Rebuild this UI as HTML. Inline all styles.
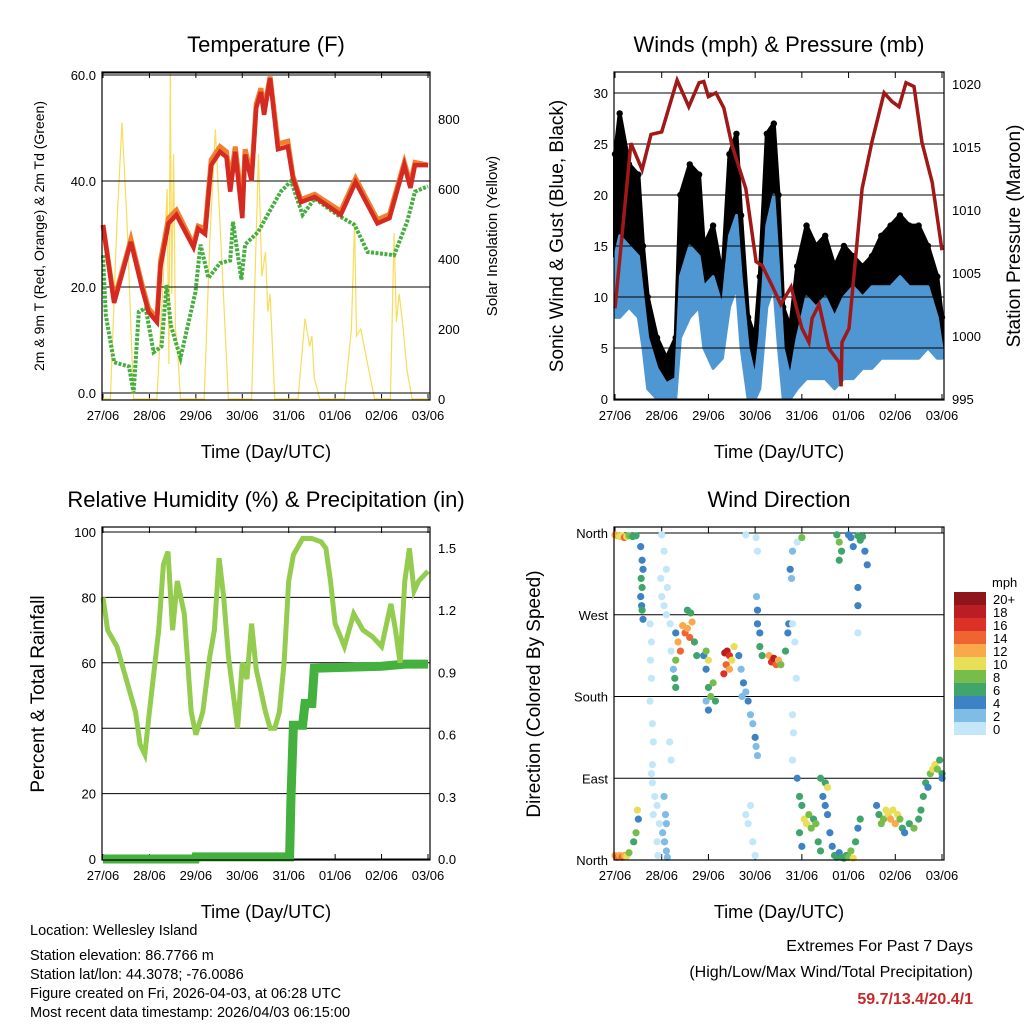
<!DOCTYPE html>
<html><head><meta charset="utf-8">
<style>
body{margin:0;background:#fff;font-family:"Liberation Sans",sans-serif;}
svg text{font-family:"Liberation Sans",sans-serif;fill:#000;}
</style></head>
<body>
<svg id="s" width="1024" height="1024" viewBox="0 0 1024 1024" xmlns="http://www.w3.org/2000/svg">
<rect width="1024" height="1024" fill="#fff"/>
<g id="g1"></g>
<g id="g2"></g>
<g id="g3"></g>
<g id="g4"></g>
<g font-size="14.5">
<text x="30" y="935">Location: Wellesley Island</text>
<text x="30" y="960">Station elevation: 86.7766 m</text>
<text x="30" y="979">Station lat/lon: 44.3078; -76.0086</text>
<text x="30" y="998">Figure created on Fri, 2026-04-03, at 06:28 UTC</text>
<text x="30" y="1017">Most recent data timestamp: 2026/04/03 06:15:00</text>
</g>
<g font-size="16" text-anchor="end">
<text x="973" y="951">Extremes For Past 7 Days</text>
<text x="973" y="977">(High/Low/Max Wind/Total Precipitation)</text>
<text x="973" y="1004" style="fill:#c8282a;font-weight:bold">59.7/13.4/20.4/1</text>
</g>
</svg>
<script>
// ---------- data ----------
const dayLabels=["27/06","28/06","29/06","30/06","31/06","01/06","02/06","03/06"];
const tempTimes=[0,0.24,0.6,0.84,0.98,1.16,1.24,1.41,1.58,1.95,2.05,2.2,2.33,2.52,2.66,2.74,2.85,3.0,3.06,3.2,3.3,3.4,3.47,3.6,3.77,3.98,4.09,4.26,4.56,5.12,5.44,5.91,6.17,6.49,6.62,6.72,7.0];
const tempRed=[31.7,17,28.5,19.8,15.3,13.4,24,32,33.6,27.5,31,30,43,45.5,44.5,38,45.5,33,45,40,53.8,56.8,52.5,59.4,46,46.5,40.6,36,37,33.6,39.8,32,33,43,38.7,43,43];
const tempOrange=[31.7,17.5,29,20.5,16,14,25,33,34.5,28,31.5,31,44,46.5,45.5,40,46.5,35,46,41,54.5,57.5,53.5,59.7,47,47.5,41,36.5,37.5,34.3,40.5,32.7,33.7,43.5,39.5,43.5,43];
const tdTimes=[0,0.06,0.24,0.56,0.66,0.77,0.92,1.09,1.26,1.37,1.46,1.67,1.99,2.1,2.27,2.52,2.74,2.8,2.98,3.06,3.34,3.62,3.83,4.05,4.3,4.56,5.05,5.42,5.7,6.27,6.55,6.72,7.0];
const tdGreen=[26,14.7,5.8,5,0,15.3,16,7.7,8.8,20.4,12.8,6.6,19,28,21.7,24.5,25,32.3,21.4,28,30.4,34.8,38,40,33.6,36.7,33.6,31.7,26.6,26,32.3,38,39];
const solarTimes=[0,0.16,0.3,0.41,0.52,0.66,1.16,1.3,1.38,1.42,1.45,1.48,1.52,1.56,1.6,1.67,2.18,2.3,2.42,2.55,2.7,3.2,3.35,3.42,3.5,3.55,3.6,3.7,4.2,4.35,4.45,4.5,4.55,4.67,5.2,5.35,5.42,5.46,5.55,5.7,5.85,6.19,6.27,6.32,6.38,6.45,6.55,6.66,7];
const solarVals=[0,0,500,790,500,0,0,350,600,100,934,300,700,200,150,0,0,450,770,420,0,0,700,350,420,250,300,0,0,230,150,180,60,0,0,200,506,180,200,100,0,0,474,220,300,220,80,0,0];
const windTimes=[0,0.1,0.3,0.5,0.6,0.7,0.9,1.1,1.3,1.4,1.6,1.8,1.9,2.1,2.3,2.45,2.6,2.7,2.85,3.0,3.1,3.25,3.4,3.5,3.6,3.75,3.9,4.1,4.3,4.5,4.7,4.9,5.1,5.3,5.5,5.7,5.9,6.1,6.3,6.5,6.7,6.9,7];
const gustHigh=[24,28,23,22,15,10,6,4,6,20,23,22,15,17,12,24,26,18,8,6,12,26,27,20,9,7,13,17,15,16,13,15,14,13,14,16,17,18,17,17,15,12,8];
const sustHigh=[14,16,15,14,10,6,3,1.5,2,12,15,14,11,12,9,16,18,12,5,2,6,17,20,13,5,2,6,10,9,10,8,10,11,10,11,11,11,12,11,11,11,8,5];
const sustLow=[8,8,9,8,5,1,0,0,0,6,8,9,5,3,4,9,11,5,0,0,1,9,11,5,0,0,1,2,2,2,1,2,2,3,3,4,4,4,4,4,5,4,4];
const presTimes=[0,0.34,0.58,0.77,1.0,1.33,1.58,1.8,1.9,2.0,2.16,2.33,2.5,2.8,3.02,3.15,3.36,3.55,3.77,4.0,4.15,4.22,4.37,4.58,4.8,4.84,4.86,5.01,5.29,5.5,5.76,5.93,6.08,6.23,6.4,6.57,6.79,7.0];
const presVals=[1002.2,1015.3,1013.2,1016,1016.2,1020.3,1018.2,1020.1,1020.2,1019,1019.3,1018.1,1015.2,1011.7,1005.9,1005.6,1004,1002.5,1003.9,1000.6,999.5,1001.4,1002.5,999,997.9,996,999.5,1000.6,1011.7,1015.4,1019.3,1018.6,1018.2,1020.1,1019.8,1015.4,1012.2,1006.8];
const rhTimes=[0,0.1,0.3,0.5,0.7,0.8,0.9,1.0,1.2,1.3,1.4,1.5,1.6,1.75,1.9,2.0,2.15,2.3,2.4,2.5,2.6,2.7,2.9,3.0,3.1,3.2,3.3,3.5,3.6,3.7,3.8,3.9,4.0,4.1,4.3,4.5,4.7,4.8,4.9,5.0,5.2,5.4,5.6,5.8,6.0,6.2,6.3,6.4,6.5,6.6,6.7,6.8,7];
const rhVals=[80,70,65,55,45,35,32,45,70,90,94,70,85,75,45,38,45,62,70,92,80,62,40,60,55,72,58,45,40,40,45,60,85,93,98,98,97,95,85,72,65,75,70,68,65,78,70,60,85,95,82,85,88];
const rainTimes=[0,1.99,2.0,4.02,4.05,4.1,4.3,4.35,4.5,4.55,6.0,6.5,7];
const rainVals=[0,0,0.01,0.01,0.3,0.645,0.645,0.75,0.75,0.92,0.93,0.94,0.94];
const dirTimes=[0.0,0.05,0.1,0.15,0.2,0.25,0.3,0.38,0.45, 0.55,0.58,0.6,0.56,0.58,0.55,0.57,0.58,0.6, 1.0,1.05,1.1,0.98,1.12,1.0,1.05,1.1, 0.75,0.78,0.76,0.78,0.75,0.8,0.82,0.8,0.78, 0.8,0.85,0.9,0.82,0.95,0.9,0.92, 1.05,1.08,1.1,1.02,1.06,1.1,1.12, 0.0,0.05,0.1,0.15,0.2,0.25,0.3,0.4,0.45,0.5,0.48, 1.18,1.2,1.17,1.2, 1.5,1.55,1.6,1.45,1.65,1.4,1.35,1.3,1.28,1.3,1.7,1.75,1.55,1.62,1.3,1.25, 1.9,1.95,2.0,2.05,2.1,2.15,2.0,1.95,2.0,1.95, 2.35,2.4,2.45,2.38,2.33,2.5,2.55,2.45, 2.65,2.7,2.75,2.8,2.85,2.9,2.72, 2.95,3.0,3.02,3.05, 3.05,3.1,3.1,3.15, 3.3,3.35,3.4,3.45,3.5,3.55,3.65,3.7,3.72, 3.8,3.85,3.88,3.8,3.82,3.8, 3.75,3.8,3.9,4.0,3.78, 3.02,3.05,3.03,3.05,2.8, 4.75,4.8,4.85,5.0,5.05,5.1,5.2,5.25,5.3,5.35,5.4,4.8,5.2,5.2,5.2, 3.9,3.95,4.0,4.05,4.1,4.15,4.2,4.25,4.3,4.35,4.4,3.95,4.0,4.45,4.5,4.5,4.55,4.6,4.65,4.7,4.75,4.8,4.85,4.9,4.95,5.0,5.05,5.1,5.15,5.2,5.25,4.4,4.55, 5.6,5.65,5.7,5.75,5.8,5.85,5.9,5.95,6.0,6.05,6.1,6.15,6.2,6.3,6.4,6.5,6.55,6.6,6.65,6.7,6.75,6.8,6.85,6.9,6.95,7.0,7.0, 2.8,2.85,2.95,3.0,2.9];
const dirVals=[358,357,356,357,355,356,357,356,357, 345,330,320,310,300,290,280,275,265, 358,340,320,310,300,290,280,270, 260,240,220,200,175,150,130,105,95, 85,70,60,50,40,20,5, 70,50,40,30,20,10,3, 5,3,5,3,5,4,8,20,30,45,55, 260,230,130,110, 250,255,245,258,262,230,240,220,200,190,240,225,275,272,250,210, 225,210,190,180,195,175,165,175,220,230, 228,230,225,215,205,220,235,210, 225,210,195,185,175,160,180, 150,135,125,115, 260,250,235,225, 225,218,222,215,220,215,230,250,260, 260,240,200,160,140,110, 320,340,350,355,310, 355,340,290,275,358, 358,350,340,358,355,345,357,352,356,340,325,330,300,280,250, 90,70,60,45,40,50,35,45,40,20,10,30,15,70,60,85,50,30,15,5,3,8,3,2,5,3,10,2,20,35,45,90,80, 60,50,40,45,55,50,45,55,40,50,45,35,30,40,35,45,55,70,85,80,95,100,105,100,110,95,90, 50,40,20,5,60];
const dirSpeeds=[13,12,10,10,14,10,8,6,6, 4,4,4,6,6,4,4,6,4, 1,1,1,1,1,1,0,1, 1,1,1,1,1,1,1,1,1, 1,1,1,1,1,1,1, 3,3,3,3,3,3,2, 13,14,12,14,12,10,8,7,8,5,10, 1,1,1,1, 14,13,14,12,12,14,12,8,6,7,7,6,7,6,4,3, 4,5,6,8,8,7,4,3,10,9, 18,18,16,14,16,10,10,12, 4,3,4,3,4,2,2, 3,4,3,2, 4,4,6,7, 12,16,18,14,12,8,6,4,4, 1,1,1,1,1,1, 4,3,1,8,3, 1,1,3,4,1, 7,8,6,4,4,4,6,7,7,4,4,7,4,4,1, 5,7,6,10,10,8,8,6,8,6,6,6,4,4,4,6,4,4,4,6,6,4,6,6,6,8,8,10,6,4,6,6,10, 4,6,8,8,10,10,12,10,12,10,8,6,4,6,8,6,6,6,6,4,8,10,10,8,6,6,4, 1,1,1,1,1];
const speedBins=["20+","18","16","14","12","10","8","6","4","2","0"];
const binColors=["#8e1519","#bb1d24","#dc3127","#ef6430","#f9a84a","#e9de58","#77bd4b","#3fa56b","#3c82c4","#80bde6","#c3e6f8"];

// ---------- helpers ----------
const NS="http://www.w3.org/2000/svg";
function el(parent,tag,attrs,txt){const e=document.createElementNS(NS,tag);for(const k in attrs)e.setAttribute(k,attrs[k]);if(txt!==undefined)e.textContent=txt;parent.appendChild(e);return e;}
function lin(d0,d1,r0,r1){return v=>r0+(v-d0)*(r1-r0)/(d1-d0);}
function pathOf(ts,vs,xf,yf){return ts.map((t,i)=>(i?"L":"M")+xf(t).toFixed(1)+","+yf(vs[i]).toFixed(1)).join("");}
function areaOf(ts,hi,lo,xf,yf){
  let d=ts.map((t,i)=>(i?"L":"M")+xf(t).toFixed(1)+","+yf(hi[i]).toFixed(1)).join("");
  for(let i=ts.length-1;i>=0;i--)d+="L"+xf(ts[i]).toFixed(1)+","+yf(lo[i]).toFixed(1);
  return d+"Z";
}

function frame(g,x0,x1,y0,y1,title,xlab){
  const t=el(g,"text",{x:(x0+x1)/2,y:y0-20,"text-anchor":"middle","font-size":22},title);
  
  
  const xl=el(g,"text",{x:(x0+x1)/2,y:y1+58,"text-anchor":"middle","font-size":18},xlab);
  
  
  const xs=lin(0,7,x0+1,x1-2);
  dayLabels.forEach((d,i)=>{
    const x=xs(i);
    el(g,"line",{x1:x,x2:x,y1:y1,y2:y1-6,stroke:"#000"});
    el(g,"line",{x1:x,x2:x,y1:y0,y2:y0+6,stroke:"#000"});
    const tl=el(g,"text",{x:x,y:y1+20,"text-anchor":"middle","font-size":13},d);
    
    
  });
  return xs;
}
function border(g,x0,x1,y0,y1){
  const r=el(g,"rect",{x:x0,y:y0,width:x1-x0,height:y1-y0,fill:"none",stroke:"#000","stroke-width":1.2});
  
  
}
function ytick(g,x0,x1,y,label,side,grid){
  if(grid) el(g,"line",{x1:x0,x2:x1,y1:y,y2:y,stroke:"#000","stroke-width":1});
  const t=el(g,"text",{x:side==="l"?x0-6:x1+8,y:y+5,"text-anchor":side==="l"?"end":"start","font-size":13},label);
  
  
}
function vlabel(g,x,y,txt,size){
  const t=el(g,"text",{x:x,y:y,"text-anchor":"middle","font-size":size,transform:`rotate(-90 ${x} ${y})`},txt);
  
  
}

// ---------- panel 1 ----------
(function(){
const g=document.getElementById("g1");
const X0=102,X1=430,Y0=72,Y1=400;
const xs=frame(g,X0,X1,Y0,Y1,"Temperature (F)","Time (Day/UTC)");
const yt=lin(0,60,393,75), ys=lin(0,800,399,119);
const p0=el(g,"path",{d:pathOf(solarTimes,solarVals,xs,ys),fill:"none",stroke:"#f8dc5a","stroke-width":1.2});

[0,20,40,60].forEach(v=>ytick(g,X0,X1,yt(v),v.toFixed(1),"l",true));
el(g,"line",{x1:X0,x2:X1,y1:73,y2:73,stroke:"#000"});
[0,200,400,600,800].forEach(v=>ytick(g,X0,X1,ys(v),String(v),"r",false));
vlabel(g,44,236,"2m & 9m T (Red, Orange) & 2m Td (Green)",14);
vlabel(g,497,236,"Solar Insolation (Yellow)",15);
const p1=el(g,"path",{d:pathOf(tdTimes,tdGreen,xs,yt),fill:"none",stroke:"#45ae3e","stroke-width":4,"stroke-dasharray":"3 1.5"});

const p2=el(g,"path",{d:pathOf(tempTimes,tempOrange,xs,yt),fill:"none",stroke:"#f07f2e","stroke-width":5});

const p3=el(g,"path",{d:pathOf(tempTimes,tempRed,xs,yt),fill:"none",stroke:"#d42a22","stroke-width":4.5});

border(g,X0,X1,Y0,Y1);
})();

// ---------- panel 2 ----------
(function(){
const g=document.getElementById("g2");
const X0=614,X1=944,Y0=72,Y1=400;
const xs=frame(g,X0,X1,Y0,Y1,"Winds (mph) & Pressure (mb)","Time (Day/UTC)");
const yw=lin(0,30,399,93), yp=lin(995,1020,399,84);
[995,1000,1005,1010,1015,1020].forEach(v=>ytick(g,X0,X1,yp(v),String(v),"r",false));
vlabel(g,563,236,"Sonic Wind & Gust (Blue, Black)",19);
vlabel(g,1020,236,"Station Pressure (Maroon)",19);
const a=el(g,"path",{d:areaOf(windTimes,gustHigh,sustHigh,xs,yw),fill:"#000",stroke:"#000","stroke-width":4,"stroke-linejoin":"round"});

gustHigh.forEach((v,i)=>{
  const c=el(g,"circle",{cx:xs(windTimes[i]),cy:yw(v),r:3.2,fill:"#000"});
  
});
const b=el(g,"path",{d:areaOf(windTimes,sustHigh,sustLow,xs,yw),fill:"#4f97d2",stroke:"#4f97d2","stroke-width":3,"stroke-linejoin":"round"});

[0,5,10,15,20,25,30].forEach(v=>ytick(g,X0,X1,yw(v),String(v),"l",true));
const p=el(g,"path",{d:pathOf(presTimes,presVals,xs,yp),fill:"none",stroke:"#a01818","stroke-width":3.5});

border(g,X0,X1,Y0,Y1);
})();

// ---------- panel 3 ----------
(function(){
const g=document.getElementById("g3");
const X0=102,X1=430,Y0=527,Y1=860;
const xs=frame(g,X0,X1,Y0,Y1,"Relative Humidity (%) & Precipitation (in)","Time (Day/UTC)");
const yr=lin(0,100,859,532), yq=lin(0,1.5,859,548);
[0,20,40,60,80,100].forEach(v=>ytick(g,X0,X1,yr(v),String(v),"l",true));
[0,0.3,0.6,0.9,1.2,1.5].forEach(v=>ytick(g,X0,X1,yq(v),v.toFixed(1),"r",false));
vlabel(g,44,694,"Percent & Total Rainfall",19);
const q=el(g,"path",{d:pathOf(rainTimes,rainVals,xs,yq),fill:"none",stroke:"#44b03e","stroke-width":9});

const r=el(g,"path",{d:pathOf(rhTimes,rhVals,xs,yr),fill:"none",stroke:"#93cc4e","stroke-width":5});

border(g,X0,X1,Y0,Y1);
})();

// ---------- panel 4 ----------
(function(){
const g=document.getElementById("g4");
const X0=614,X1=944,Y0=527,Y1=860;
const xs=frame(g,X0,X1,Y0,Y1,"Wind Direction","Time (Day/UTC)");
const yd=lin(0,360,860,533);
[["North",0],["East",90],["South",180],["West",270],["North",360]].forEach(([n,v])=>ytick(g,X0,X1,yd(v),n,"l",true));
vlabel(g,540,694,"Direction (Colored By Speed)",19);
function colorOf(s){const i=Math.min(10,Math.floor(s/2));return binColors[10-i];}
dirTimes.forEach((t,i)=>{
  if(dirVals[i]===undefined||dirSpeeds[i]===undefined)return;
  const c=el(g,"circle",{cx:xs(t),cy:yd(dirVals[i]),r:3.6,fill:colorOf(dirSpeeds[i])});
  
  
});
border(g,X0,X1,Y0,Y1);
const lt=el(g,"text",{x:992,y:587,"font-size":13},"mph");

speedBins.forEach((s,i)=>{
  const y=592+i*13;
  const r=el(g,"rect",{x:954,y:y,width:32,height:13,fill:binColors[i]});
  
  
  const t=el(g,"text",{x:993,y:y+12,"font-size":13},s);
  
  
});
})();
</script>
</body></html>
